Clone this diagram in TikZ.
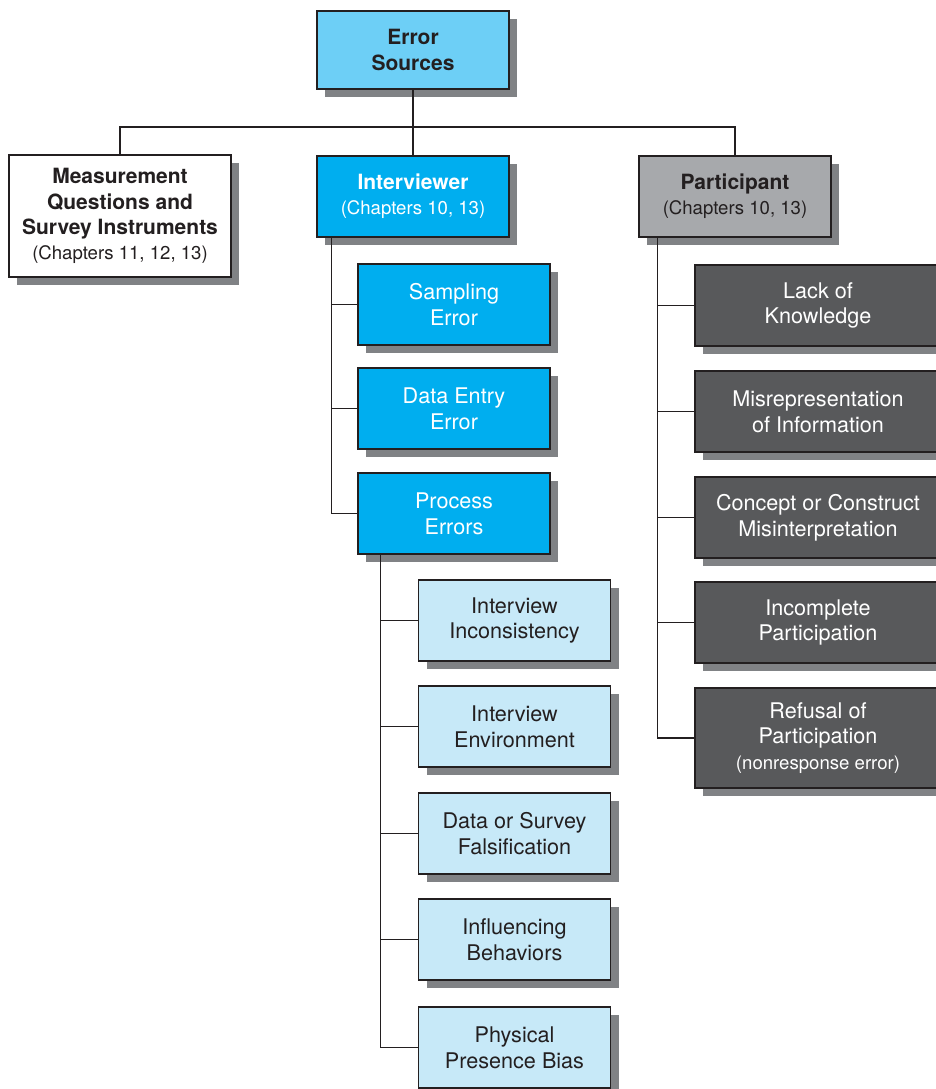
\documentclass[tikz,border=0pt]{standalone}
\usepackage{fontspec}
\setmainfont{TeX Gyre Heros}
\usetikzlibrary{positioning,shadows}
\definecolor{ink}{HTML}{231F20}
\definecolor{topFill}{HTML}{6DCFF6}
\definecolor{cyanFill}{HTML}{00AEEF}
\definecolor{paleFill}{HTML}{C7E9F8}
\definecolor{greyFill}{HTML}{A7A9AC}
\definecolor{darkFill}{HTML}{58595B}
\definecolor{shade}{HTML}{808285}

\begin{document}
\begin{tikzpicture}[
  x=0.5pt, y=-0.5pt,
  font=\fontsize{10.8}{12.8}\selectfont,
  box/.style={
    rectangle, draw=ink, line width=0.6pt,
    align=center, inner sep=2pt,
    minimum width=96pt, minimum height=40.5pt,
    text=ink,
    drop shadow={shadow xshift=4pt, shadow yshift=-4pt, fill=shade, opacity=1}
  },
  headBox/.style={box, font=\fontsize{10.5}{12.6}\selectfont\bfseries},
  topBox/.style={headBox, fill=topFill, minimum height=39pt},
  measBox/.style={headBox, fill=white, minimum width=111pt, minimum height=61pt},
  intvBox/.style={headBox, fill=cyanFill, text=white},
  partBox/.style={headBox, fill=greyFill},
  cyanBox/.style={box, fill=cyanFill, text=white},
  paleBox/.style={box, fill=paleFill},
  darkBox/.style={box, fill=darkFill, text=white, minimum width=123pt},
  link/.style={draw=ink, line width=0.6pt}
]

% Text macro for the small chapter notes
\newcommand{\chapNote}[1]{{\fontsize{9.3}{11.5}\selectfont\mdseries #1}}

% Page size of the reference, 936 x 1089 px
\clip (0,0) rectangle (936,1089);

% Top level
\node[topBox] (src) at (413,50) {Error\\Sources};

% Second level
\node[measBox] (meas) at (120,216) {Measurement\\Questions and\\Survey Instruments\\\chapNote{(Chapters 11, 12, 13)}};
\node[intvBox] (intv) at (413,196.5) {Interviewer\\\chapNote{(Chapters 10, 13)}};
\node[partBox] (part) at (735,196.5) {Participant\\\chapNote{(Chapters 10, 13)}};

% Interviewer branch
\node[cyanBox] (samp)  at (454,304.5) {Sampling\\Error};
\node[cyanBox] (entry) at (454,408.5) {Data Entry\\Error};
\node[cyanBox] (proc)  at (454,513.5) {Process\\Errors};

% Process errors branch
\node[paleBox] (incons) at (514.5,620.5)  {Interview\\Inconsistency};
\node[paleBox] (envir)  at (514.5,726.5)  {Interview\\Environment};
\node[paleBox] (falsif) at (514.5,833.5)  {Data or Survey\\Falsification};
\node[paleBox] (influ)  at (514.5,939.5)  {Influencing\\Behaviors};
\node[paleBox] (bias)   at (514.5,1047.5) {Physical\\Presence Bias};

% Participant branch
\node[darkBox] (lack)   at (818,305.5) {Lack of\\Knowledge};
\node[darkBox] (misrep) at (818,411.5) {Misrepresentation\\of Information};
\node[darkBox] (concep) at (818,517.5) {Concept or Construct\\Misinterpretation};
\node[darkBox] (incomp) at (818,622.5) {Incomplete\\Participation};
\node[darkBox, minimum height=50pt] (refus) at (818,738) {Refusal of\\Participation\\\chapNote{(nonresponse error)}};

% Tree from the top
\coordinate (bus) at (413,127);
\draw[link] (src.south) -- (intv.north);
\draw[link] (meas.north) |- (bus) -| (part.north);

% Interviewer trunk
\coordinate (itrunk) at ([xshift=7.5pt]intv.south west);
\draw[link] (itrunk) |- (proc.west);
\foreach \n in {samp,entry}
  \draw[link] (itrunk |- \n.west) -- (\n.west);

% Process trunk
\coordinate (ptrunk) at ([xshift=11.5pt]proc.south west);
\draw[link] (ptrunk) |- (bias.west);
\foreach \n in {incons,envir,falsif,influ}
  \draw[link] (ptrunk |- \n.west) -- (\n.west);

% Participant trunk
\coordinate (qtrunk) at ([xshift=9.5pt]part.south west);
\draw[link] (qtrunk) |- (refus.west);
\foreach \n in {lack,misrep,concep,incomp}
  \draw[link] (qtrunk |- \n.west) -- (\n.west);

\end{tikzpicture}
\end{document}
